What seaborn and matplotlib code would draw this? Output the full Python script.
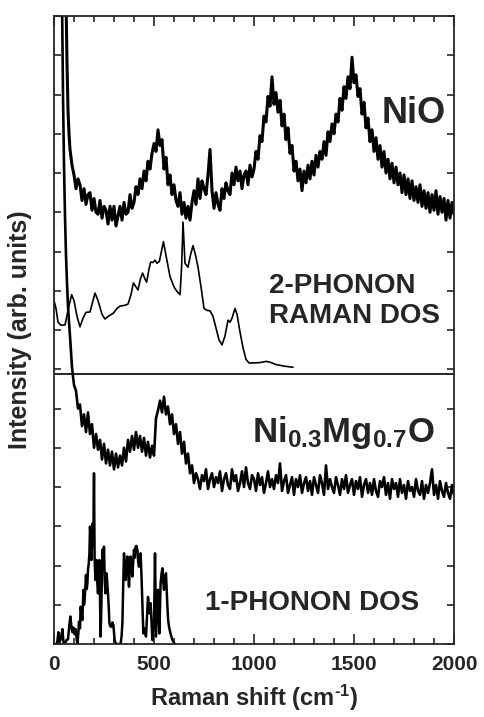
import numpy as np
import matplotlib
matplotlib.use("Agg")
import matplotlib.pyplot as plt
from matplotlib.ticker import MultipleLocator
import seaborn as sns

# NiO spectrum: Rayleigh tail, then noisy data every 10 cm-1 from 100 to 2000
nio_tail_x = [60, 65, 70, 75, 80, 90]
nio_tail_y = [16.5, 14.8, 13.6, 13.0, 12.6, 12.2]
nio_y = [
    11.95, 11.6, 11.85, 11.7, 11.3, 11.6, 11.2, 11.45, 11.5, 11.05,
    11.35, 11.0, 10.95, 11.3, 10.85, 11.15, 11.05, 10.7, 11.15, 10.8,
    11.15, 10.65, 10.9, 11.15, 10.8, 11.25, 10.95, 11.0, 11.45, 11.1,
    11.25, 11.65, 11.45, 11.85, 11.6, 12.05, 11.8, 12.3, 12.1, 12.5,
    12.75, 12.55, 13.1, 12.7, 12.85, 12.1, 12.4, 11.7, 11.95, 11.45,
    11.7, 11.3, 11.15, 11.5, 10.95, 11.25, 10.85, 11.15, 10.8, 11.25,
    11.55, 11.2, 11.85, 11.35, 11.8, 11.6, 11.45, 11.95, 12.6, 11.55,
    11.1, 11.5, 11.2, 11.05, 11.6, 11.35, 11.75, 11.55, 11.45, 12.0,
    11.7, 12.15, 11.8, 12.05, 11.6, 11.95, 12.05, 11.7, 12.2, 11.9,
    12.1, 12.55, 12.35, 12.95, 12.8, 13.45, 13.3, 13.95, 13.7, 14.45,
    13.75, 14.05, 13.55, 13.85, 13.2, 13.5, 12.85, 13.15, 12.5, 12.7,
    12.05, 12.3, 11.8, 12.1, 11.55, 12.05, 11.75, 12.2, 11.85, 12.3,
    11.95, 12.45, 12.15, 12.55, 12.35, 12.8, 12.45, 13.05, 12.8, 13.25,
    13.0, 13.5, 13.3, 13.9, 13.6, 14.2, 13.9, 14.45, 14.15, 14.95,
    14.3, 14.5, 13.95, 14.15, 13.5, 13.8, 13.15, 13.4, 12.8, 13.1,
    12.55, 12.9, 12.35, 12.7, 12.15, 12.55, 12.0, 12.35, 11.85, 12.25,
    11.75, 12.15, 11.7, 12.0, 11.5, 11.95, 11.45, 11.85, 11.35, 11.8,
    11.3, 11.65, 11.25, 11.7, 11.15, 11.55, 11.1, 11.5, 11.0, 11.45,
    11.05, 11.55, 10.95, 11.4, 11.0, 11.35, 10.8, 11.3, 10.85, 11.25,
    10.95,
]

# Ni0.3Mg0.7O spectrum: Rayleigh tail, then noisy data every 10 cm-1 from 110 to 2000
mg_tail_x = [40, 45, 50, 55, 60, 65, 70, 75, 80, 90, 100]
mg_tail_y = [16.5, 14.0, 12.2, 10.9, 9.9, 9.2, 8.6, 8.2, 7.85, 7.05, 6.6]
mg_y = [
    6.45, 6.0, 6.1, 5.55, 5.85, 5.4, 5.9, 5.35, 5.6,
    5.0, 5.35, 4.95, 5.2, 4.7, 5.1, 4.6, 4.95, 4.55, 4.9,
    4.45, 4.85, 4.5, 4.8, 4.55, 5.0, 4.65, 5.2, 4.9, 5.3,
    4.95, 5.4, 5.0, 5.3, 4.9, 5.25, 4.8, 5.15, 4.75, 5.05,
    4.8, 5.75, 5.95, 6.2, 5.9, 6.3, 5.85, 6.05, 5.6, 5.85,
    5.35, 5.6, 5.1, 5.4, 4.85, 5.15, 4.6, 4.85, 4.35, 4.55,
    4.1, 4.35, 4.2, 3.95, 4.3, 4.15, 4.45, 3.95, 4.2, 4.35,
    4.0, 4.25, 4.1, 4.4, 3.9, 4.2, 4.35, 4.05, 3.95, 4.45,
    4.15, 4.3, 3.9, 4.1, 4.4, 4.0, 4.5, 4.1, 3.95, 4.3,
    4.2, 3.9, 4.35, 4.05, 4.25, 3.85, 4.1, 4.4, 4.0, 4.2,
    3.95, 4.3, 4.1, 4.6, 3.9, 4.15, 4.3, 3.85, 4.05, 4.25,
    3.8, 4.2, 4.0, 4.3, 3.85, 4.1, 4.25, 3.9, 4.15, 3.8,
    4.25, 4.05, 3.85, 4.3, 4.1, 3.8, 4.55, 3.95, 4.2, 4.0,
    3.85, 4.25, 4.05, 3.8, 4.2, 3.95, 4.3, 3.85, 4.05, 4.2,
    3.8, 4.15, 3.95, 4.25, 3.75, 4.05, 4.2, 3.85, 4.1, 3.8,
    4.2, 3.9, 3.75, 4.15, 4.0, 4.25, 3.8, 4.1, 3.7, 4.2,
    3.95, 4.1, 3.75, 4.2, 3.85, 4.05, 3.7, 4.15, 3.9, 4.0,
    3.75, 4.2, 3.9, 3.8, 4.15, 3.7, 4.05, 3.85, 4.1, 4.45,
    3.8, 4.05, 3.7, 4.15, 3.9, 3.75, 4.1, 3.85, 3.7, 4.05,
    3.8,
]

# 2-phonon Raman DOS (smooth curve)
dos2_x = [0, 10, 20, 35, 55, 70, 88, 100, 115, 130, 145, 160, 180, 195, 205,
          220, 240, 255, 275, 297, 315, 330, 355, 370, 385, 397, 410, 420, 432,
          443, 455, 463, 475, 483, 495, 505, 515, 527, 537, 547, 560, 580, 600,
          615, 630, 638, 645, 655, 670, 682, 695, 708, 720, 735, 750, 765, 780,
          795, 810, 825, 840, 855, 870, 880, 890, 905, 915, 930, 945, 960, 975,
          1000, 1030, 1060, 1080, 1110, 1150, 1195]
dos2_y = [8.75, 8.55, 8.2, 8.12, 8.13, 8.5, 8.9, 8.75, 8.35, 8.08, 8.3, 8.45,
          8.46, 8.75, 8.94, 8.75, 8.4, 8.28, 8.36, 8.43, 8.55, 8.61, 8.63, 8.66,
          8.9, 9.2, 9.1, 9.02, 9.3, 9.45, 9.3, 9.22, 9.55, 9.73, 9.72, 9.78,
          9.7, 9.75, 10.0, 10.25, 9.9, 9.36, 9.1, 8.98, 8.9, 9.6, 10.75, 9.7,
          9.6, 9.9, 10.15, 9.9, 9.6, 9.1, 8.55, 8.5, 8.49, 8.35, 8.05, 7.75,
          7.62, 7.85, 8.25, 8.2, 8.3, 8.55, 8.4, 7.95, 7.55, 7.25, 7.16, 7.16,
          7.17, 7.2, 7.18, 7.12, 7.08, 7.05]

# 1-phonon DOS (spiky histogram)
dos1_x = [0, 15, 22, 28, 35, 42, 48, 55, 62, 70, 77, 82, 87, 92, 97, 103, 108,
          113, 117, 122, 125, 130, 133, 138, 142, 147, 150, 153, 157, 160, 164,
          167, 170, 173, 177, 180, 184, 187, 190, 193, 197, 200, 203, 207, 210,
          213, 217, 220, 224, 227, 230, 233, 237, 242, 246, 250, 254, 257, 260,
          263, 267, 270, 274, 277, 282, 287, 292, 297, 303, 310, 333, 338, 342,
          346, 350, 354, 358, 362, 367, 371, 375, 379, 383, 388, 392, 396, 400,
          404, 408, 412, 417, 421, 425, 429, 433, 437, 440, 444, 447, 450, 453,
          457, 460, 465, 470, 474, 477, 480, 483, 488, 492, 496, 500, 503, 505,
          508, 510, 515, 520, 524, 527, 530, 533, 538, 542, 546, 550, 555, 560,
          564, 567, 571, 575, 581, 587, 592, 597, 603]
dos1_y = [0, 0, 0.3, 0.05, 0.15, 0.38, 0.0, 0.0, 0.1, 0.12, 0.5, 0.7, 0.44, 0.3,
          0.42, 0.25, 0.38, 0.15, 0.0, 0.3, 0.57, 0.4, 0.95, 0.75, 0.61, 1.38,
          1.0, 1.12, 1.5, 1.76, 1.4, 1.55, 1.9, 2.01, 2.3, 2.99, 2.6, 2.14, 2.5,
          3.07, 2.8, 4.35, 2.2, 1.63, 1.9, 2.14, 1.5, 1.29, 1.7, 2.14, 1.2,
          0.19, 1.0, 2.4, 2.1, 2.48, 1.6, 1.29, 1.6, 1.8, 1.5, 1.29, 0.9, 0.53,
          0.45, 0.44, 0.55, 0.48, 0.1, 0.0, 0.0, 0.2, 0.53, 1.5, 2.31, 2.0,
          1.63, 1.9, 2.23, 1.8, 1.46, 1.9, 2.23, 2.0, 1.72, 2.1, 2.4, 2.2, 2.48,
          2.5, 2.4, 2.1, 1.97, 2.2, 2.31, 1.8, 1.29, 0.7, 0.27, 0.4, 0.36, 0.25,
          0.19, 0.7, 1.2, 1.0, 0.78, 0.9, 1.04, 0.5, 0.1, 0.3, 0.61, 1.5, 2.31,
          1.0, 0.19, 0.8, 1.38, 0.8, 0.27, 0.9, 1.55, 1.8, 1.93, 1.6, 1.38, 1.7,
          1.8, 1.3, 0.95, 0.6, 0.44, 0.3, 0.19, 0.1, 0.06, 0.0]

baseline_y = 6.88

sns.set_style("ticks")
plt.rcParams['font.family'] = ['Liberation Sans', 'DejaVu Sans']
plt.rcParams['font.weight'] = 'bold'
plt.rcParams['mathtext.fontset'] = 'custom'
plt.rcParams['mathtext.rm'] = 'Liberation Sans:bold'
plt.rcParams['mathtext.bf'] = 'Liberation Sans:bold'
plt.rcParams['mathtext.default'] = 'bf'

fig = plt.figure(figsize=(4.84, 7.17), dpi=100)
ax = fig.add_axes([54 / 484, 1 - 644 / 717, 400 / 484, 628 / 717])

nio_x = nio_tail_x + list(range(100, 2001, 10))
nio_all = nio_tail_y + nio_y
mg_x = mg_tail_x + list(range(110, 2001, 10))
mg_all = mg_tail_y + mg_y

sns.lineplot(x=nio_x, y=nio_all, ax=ax, color='black', lw=2.2, estimator=None, sort=False)
sns.lineplot(x=mg_x, y=mg_all, ax=ax, color='black', lw=1.9, estimator=None, sort=False)
sns.lineplot(x=dos2_x, y=dos2_y, ax=ax, color='black', lw=1.2, estimator=None, sort=False)
sns.lineplot(x=dos1_x, y=dos1_y, ax=ax, color='black', lw=1.8, estimator=None, sort=False)
ax.axhline(baseline_y, color='black', lw=1.2)

ax.set_xlim(0, 2000)
ax.set_ylim(0, 16)
ax.xaxis.set_major_locator(MultipleLocator(500))
ax.xaxis.set_minor_locator(MultipleLocator(100))
ax.yaxis.set_major_locator(MultipleLocator(1))
ax.set_yticklabels([])
ax.tick_params(which='both', direction='in', top=True, right=True, width=1.2)
ax.tick_params(which='major', length=7, labelsize=15, pad=8)
ax.tick_params(which='minor', length=4)
ax.tick_params(axis='y', which='major', length=5)
for lab in ax.get_xticklabels():
    lab.set_fontweight('bold')
for s in ax.spines.values():
    s.set_linewidth(1.3)

ax.text(1640, 13.28, 'NiO', fontsize=26, fontweight='bold', va='baseline')
ax.text(1075, 8.94, '2-PHONON', fontsize=20, fontweight='bold', va='baseline')
ax.text(1075, 8.18, 'RAMAN DOS', fontsize=20, fontweight='bold', va='baseline')
ax.text(990, 5.15, r'Ni$_{0.3}$Mg$_{0.7}$O', fontsize=25, fontweight='bold', va='baseline')
ax.text(755, 0.87, '1-PHONON DOS', fontsize=20, fontweight='bold', va='baseline')

ax.set_xlabel(r'Raman shift (cm$^{\text{-1}}$)', fontsize=17, fontweight='bold', labelpad=6)
ax.set_ylabel('Intensity (arb. units)', fontsize=18, fontweight='bold', labelpad=8)

fig.savefig('out.png', dpi=100)
